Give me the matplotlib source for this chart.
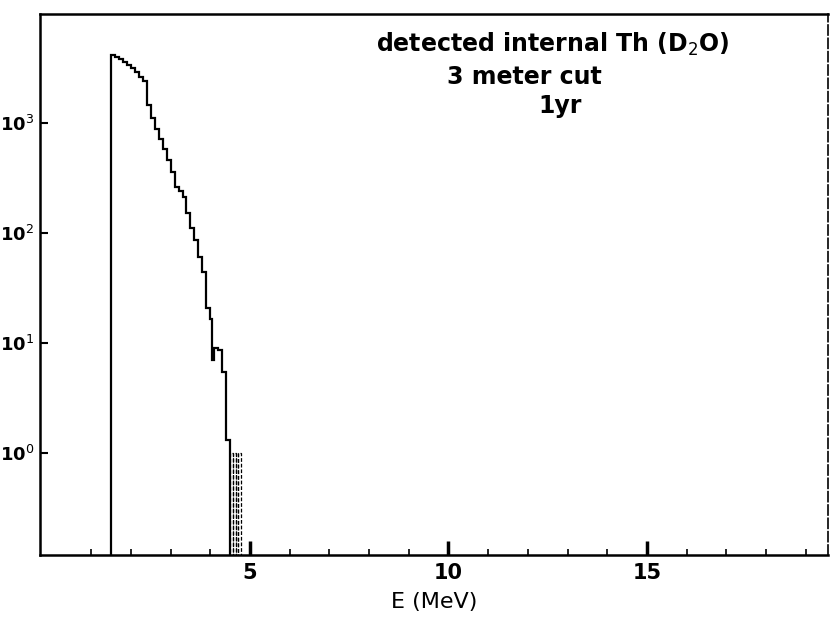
import numpy as np
import matplotlib
matplotlib.use("Agg")
import matplotlib.pyplot as plt

# ---- data ----
bin_edges = [1.5, 1.6, 1.7, 1.8, 1.9, 2.0, 2.1, 2.2, 2.3, 2.4, 2.5, 2.6, 2.7,
             2.8, 2.9, 3.0, 3.1, 3.2, 3.3, 3.4, 3.5, 3.6, 3.7, 3.8, 3.9, 4.0,
             4.05, 4.1, 4.2, 4.3, 4.4, 4.5]
counts = [4170, 3980, 3800, 3550, 3390, 3160, 2880, 2630, 2400, 1450, 1120,
          890, 710, 575, 457, 355, 263, 240, 214, 151, 112, 87, 60, 44, 21,
          16.6, 7.0, 9.0, 8.7, 5.5, 1.3]
tail_edges = [4.5, 4.57, 4.64, 4.71, 4.78]
tail_counts = [1, 1, 1, 1]
x_ticks = [5, 10, 15]
x_tick_labels = ["5", "10", "15"]
y_ticks = [1, 10, 100, 1000]
y_tick_labels = ["10$^0$", "10$^1$", "10$^2$", "10$^3$"]
x_label = "E (MeV)"
notes = ["detected internal Th (D$_2$O)", "3 meter cut", "1yr"]

# ---- figure ----
fig = plt.figure(figsize=(8.3, 6.3), dpi=100)
ax = fig.add_axes([40 / 830, 75 / 630, 788 / 830, 541 / 630])
ax.set_yscale("log")
ax.set_xlim(-0.29, 19.56)
ax.set_ylim(0.118, 9800)

vals = np.array(counts, dtype=float)
ax.stairs(vals, bin_edges, baseline=1e-3, color="black", linewidth=1.6)
# low-count tail drawn as a light, dashed set of bins
for i in range(len(tail_counts)):
    ax.stairs([tail_counts[i]], tail_edges[i:i + 2], baseline=1e-3,
              color="black", linewidth=0.9, linestyle=(0, (3, 1.5)))

for s in ["left", "bottom", "top"]:
    ax.spines[s].set_linewidth(1.8)
ax.spines["right"].set_linewidth(1.2)
ax.spines["right"].set_linestyle((0, (6, 2)))

# x ticks: minor every 1 MeV, major at 5/10/15
ax.set_xticks(x_ticks)
ax.set_xticklabels(x_tick_labels, fontsize=15, fontweight="bold")
ax.set_xticks(np.arange(1, 20, 1), minor=True)
ax.tick_params(axis="x", which="major", direction="in", length=10, width=2.5,
               pad=6, top=False)
ax.tick_params(axis="x", which="minor", direction="in", length=4, width=1.2,
               top=False)

ax.set_yticks(y_ticks)
ax.set_yticklabels(y_tick_labels, fontsize=13, fontweight="bold")
ax.yaxis.set_minor_locator(matplotlib.ticker.NullLocator())
ax.tick_params(axis="y", which="major", direction="in", length=6, width=1.5,
               pad=4, right=False)

ax.set_xlabel(x_label, fontsize=16, labelpad=6)

ax.text(0.651, 0.943, notes[0], transform=ax.transAxes, fontsize=17,
        ha="center", va="center", fontweight="bold")
ax.text(0.615, 0.884, notes[1], transform=ax.transAxes, fontsize=17,
        ha="center", va="center", fontweight="bold")
ax.text(0.66, 0.83, notes[2], transform=ax.transAxes, fontsize=17,
        ha="center", va="center", fontweight="bold")

fig.savefig("out.png", dpi=100)
